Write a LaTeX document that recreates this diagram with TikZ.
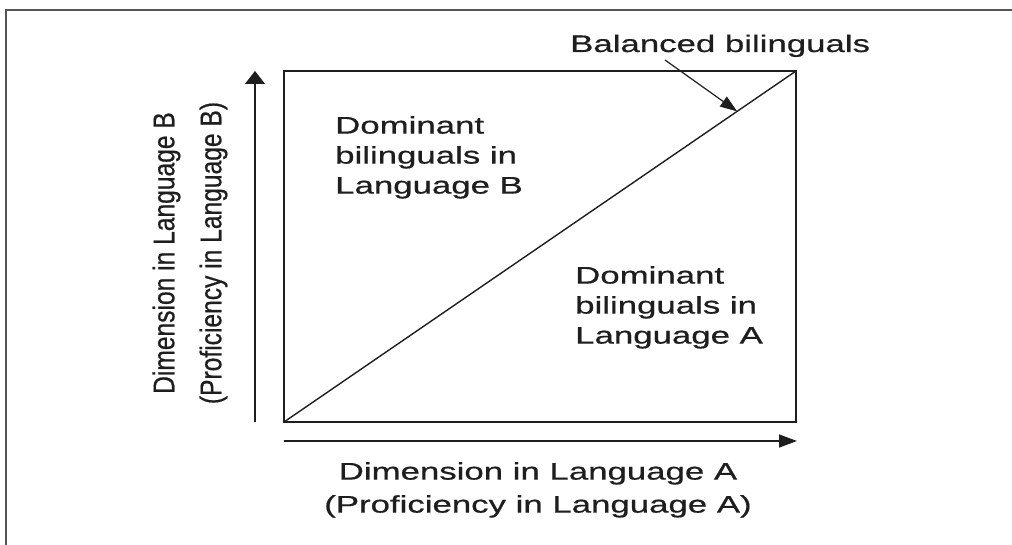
\documentclass[tikz,border=0pt]{standalone}
\usepackage{fontspec}
\setmainfont{Liberation Sans}
\newfontfamily\widefont[FakeStretch=1.45, FakeBold=0.6]{Liberation Sans}
\newfontfamily\narrowfont[FakeStretch=0.82, FakeBold=0.6]{Liberation Sans}
\usetikzlibrary{arrows.meta, positioning, calc}
\definecolor{framegray}{RGB}{85, 85, 85}
\definecolor{inkgray}{RGB}{30, 30, 30}
\tikzset{
    edge/.style={line width=1.4pt, inkgray},
    label/.style={inner sep=0pt, align=left, text=inkgray, font=\widefont\fontsize{24}{30}\selectfont}
}
\begin{document}
\begin{tikzpicture}[
    x=1pt, y=-1pt,
    uparrow/.style={edge, -{Triangle[length=13pt, width=20pt]}},
    rightarrow/.style={edge, -{Triangle[length=18pt, width=13pt]}},
    pointer/.style={line width=1.2pt, inkgray, -{Triangle[length=17pt, width=12pt]}},
    axislabel/.style={inner sep=0pt, align=center, text=inkgray}
]
    \useasboundingbox (0,0) rectangle (1012,545);

    % outer frame (top and left only)
    \draw[framegray, line width=1.5pt] (6,545) -- (6,10) -- (1012,10);

    % square of the two dimensions
    \coordinate (origin) at (284,422);
    \coordinate (topright) at (796,71);
    \draw[edge] (origin) rectangle (topright);
    \draw[edge] (origin) -- (topright);

    % axes
    \coordinate (yfoot) at (255,422);
    \coordinate (ytip) at (255,71);
    \coordinate (xfoot) at (284,441);
    \coordinate (xtip) at (797,441);
    \draw[uparrow] (yfoot) -- (ytip);
    \draw[rightarrow] (xfoot) -- (xtip);

    % axis labels
    \node[axislabel, rotate=90, font=\narrowfont\fontsize{30}{47}\selectfont] (ylab) at (190,253)
        {Dimension in Language B\\(Proficiency in Language B)};
    \node[axislabel, anchor=north, font=\widefont\fontsize{24}{33}\selectfont] (xlab) at (538,462)
        {Dimension in Language A\\(Proficiency in Language A)};

    % regions
    \node[label, anchor=north west] (domB) at (335,116) {Dominant\\bilinguals in\\Language B};
    \node[label, anchor=north west] (domA) at (575,266) {Dominant\\bilinguals in\\Language A};

    % balanced bilinguals
    \node[label, anchor=base west] (bal) at (570,52) {Balanced bilinguals};
    \coordinate (baltail) at (665,60);
    \coordinate (balpoint) at ($(origin)!0.885!(topright)$);
    \draw[pointer] (baltail) -- (balpoint);
\end{tikzpicture}
\end{document}
